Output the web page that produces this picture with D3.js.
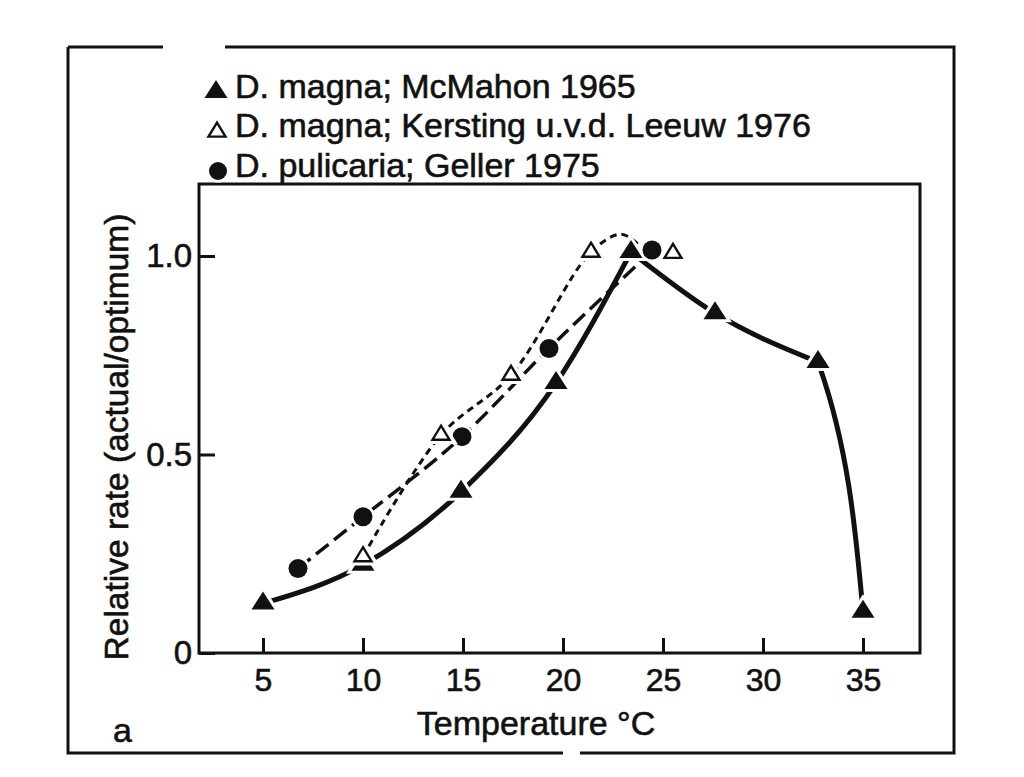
<!DOCTYPE html>
<html>
<head>
<meta charset="utf-8">
<script src="https://cdn.jsdelivr.net/npm/d3@7"></script>
<style>
  html, body { margin: 0; padding: 0; background: #fff; }
  svg { display: block; }
  text { font-family: "Liberation Sans", Arial, Helvetica, sans-serif; fill: #111; stroke: #111; stroke-width: 0.6px; }
</style>
</head>
<body>
<svg id="chart" width="1024" height="777"></svg>
<script>
// ---------------- data ----------------
const legendLabels = [
  "D. magna; McMahon 1965",
  "D. magna; Kersting u.v.d. Leeuw 1976",
  "D. pulicaria; Geller 1975"
];
// McMahon 1965 (filled triangles, solid line)
const mcmahonT = [5, 10, 14.9, 19.65, 23.4, 27.6, 32.75, 35];
const mcmahonV = [0.125, 0.222, 0.406, 0.68, 1.01, 0.856, 0.733, 0.104];
// Kersting u.v.d. Leeuw 1976 (open triangles, short-dashed line)
const kerstingT = [10, 13.9, 17.4, 21.4, 25.5];
const kerstingV = [0.243, 0.549, 0.70, 1.01, 1.007];
const kerstingArcT = [22.9, 23.75];      // line continues over the peak
const kerstingArcV = [1.055, 1.03];
// Geller 1975 (filled circles, dashed line)
const gellerT = [6.75, 10, 14.95, 19.3, 24.45];
const gellerV = [0.213, 0.343, 0.545, 0.767, 1.015];
const gellerEndT = [23.65];               // line ends at the peak
const gellerEndV = [0.975];
// axes
const xTicks = [5, 10, 15, 20, 25, 30, 35];
const yTicks = [0, 0.5, 1.0];
const yTickLabels = ["0", "0.5", "1.0"];
const xTitle = "Temperature °C";
const yTitle = "Relative rate (actual/optimum)";
const panelLabel = "a";

// ---------------- layout ----------------
const svg = d3.select("#chart");
const plot = { left: 199, right: 920, top: 184, bottom: 653 };
const x = d3.scaleLinear().domain([1.8, 37.85]).range([plot.left, plot.right]);
const y = d3.scaleLinear().domain([0, 1.0]).range([653, 256]);

// outer frame (with small gaps as in the print)
svg.append("path")
  .attr("d", "M68,47 L163,47 M225,47 L954,47 L954,753 L580,753 M563,753 L68,753 L68,47")
  .attr("fill", "none").attr("stroke", "#111").attr("stroke-width", 3);

// plot frame
svg.append("rect")
  .attr("x", plot.left).attr("y", plot.top)
  .attr("width", plot.right - plot.left).attr("height", plot.bottom - plot.top)
  .attr("fill", "none").attr("stroke", "#111").attr("stroke-width", 3);

// x axis
const xAxis = d3.axisBottom(x).tickValues(xTicks).tickSize(-15).tickPadding(15).tickFormat(d3.format("d"));
const gx = svg.append("g").attr("transform", `translate(0,${plot.bottom})`).call(xAxis);
gx.select(".domain").remove();
gx.selectAll(".tick line").attr("stroke", "#111").attr("stroke-width", 3);
gx.selectAll(".tick text").attr("font-size", 32).attr("font-family", "Liberation Sans, Arial, sans-serif").attr("fill", "#111");

// y axis
const yAxis = d3.axisLeft(y).tickValues(yTicks).tickSize(-16).tickPadding(7)
  .tickFormat((d, i) => yTickLabels[i]);
const gy = svg.append("g").attr("transform", `translate(${plot.left},0)`).call(yAxis);
gy.select(".domain").remove();
gy.selectAll(".tick line").attr("stroke", "#111").attr("stroke-width", 3);
gy.selectAll(".tick text").attr("font-size", 33).attr("font-family", "Liberation Sans, Arial, sans-serif").attr("fill", "#111");

// titles
svg.append("text").attr("x", 536).attr("y", 735).attr("text-anchor", "middle")
  .attr("font-size", 34).text(xTitle);
svg.append("text").attr("transform", "translate(128,437) rotate(-90)").attr("text-anchor", "middle")
  .attr("font-size", 33.5).text(yTitle);
svg.append("text").attr("x", 113).attr("y", 742).attr("font-size", 34).text(panelLabel);

// ---------------- lines ----------------
const pts = (T, V) => T.map((t, i) => [t, V[i]]);
const lineX = d3.line().x(d => x(d[0])).y(d => y(d[1])).curve(d3.curveMonotoneX);
const lineY = d3.line().x(d => x(d[0])).y(d => y(d[1])).curve(d3.curveMonotoneY);
const lines = svg.append("g").attr("fill", "none").attr("stroke", "#111").attr("stroke-linecap", "butt");

const mcPts = pts(mcmahonT, mcmahonV);
// rising branch
lines.append("path").attr("d", lineX(mcPts.slice(0, 5))).attr("stroke-width", 5);
// falling branch up to 32.75
lines.append("path").attr("d", lineX(mcPts.slice(4, 7))).attr("stroke-width", 5);
// final steep drop (shape from 27.6–35, shown only beyond 32.75)
svg.append("clipPath").attr("id", "dropClip").append("rect")
  .attr("x", x(mcmahonT[6])).attr("y", plot.top).attr("width", plot.right - x(mcmahonT[6])).attr("height", plot.bottom - plot.top);
lines.append("path").attr("d", lineY(mcPts.slice(5))).attr("stroke-width", 5).attr("clip-path", "url(#dropClip)");

const gePts = pts(gellerT.slice(0, 4), gellerV.slice(0, 4)).concat(pts(gellerEndT, gellerEndV));
lines.append("path").attr("d", lineX(gePts)).attr("stroke-width", 3.5).attr("stroke-dasharray", "16 7");

const kePts = pts(kerstingT.slice(0, 4), kerstingV.slice(0, 4)).concat(pts(kerstingArcT, kerstingArcV));
lines.append("path").attr("d", d3.line().x(d => x(d[0])).y(d => y(d[1])).curve(d3.curveCatmullRom.alpha(0.5))(kePts))
  .attr("stroke-width", 3).attr("stroke-dasharray", "7 5");

// ---------------- markers ----------------
function triPath(w, h) {
  const top = -2 * h / 3, base = h / 3;   // centroid at origin
  return `M0,${top} L${w / 2},${base} L${-w / 2},${base} Z`;
}
const marks = svg.append("g");
function filledTri(g, cx, cy) {
  g.append("path").attr("transform", `translate(${cx},${cy})`).attr("d", triPath(23, 18))
    .attr("fill", "#fff").attr("stroke", "#fff").attr("stroke-width", 6);
  g.append("path").attr("transform", `translate(${cx},${cy})`).attr("d", triPath(23, 18)).attr("fill", "#111");
}
function openTri(g, cx, cy) {
  g.append("path").attr("transform", `translate(${cx},${cy})`).attr("d", triPath(19, 15))
    .attr("fill", "#fff").attr("stroke", "#fff").attr("stroke-width", 8);
  g.append("path").attr("transform", `translate(${cx},${cy})`).attr("d", triPath(17, 14))
    .attr("fill", "#fff").attr("stroke", "#111").attr("stroke-width", 2.4);
}
function dot(g, cx, cy, r) {
  g.append("circle").attr("cx", cx).attr("cy", cy).attr("r", r + 2.5).attr("fill", "#fff");
  g.append("circle").attr("cx", cx).attr("cy", cy).attr("r", r).attr("fill", "#111");
}
mcmahonT.forEach((t, i) => filledTri(marks, x(t), y(mcmahonV[i])));
gellerT.forEach((t, i) => dot(marks, x(t), y(gellerV[i]), 9.5));
kerstingT.forEach((t, i) => openTri(marks, x(t), y(kerstingV[i])));

// ---------------- legend ----------------
const leg = svg.append("g");
const legY = [98, 137, 177];
filledTri(leg, 216, 92);
openTri(leg, 217, 132);
dot(leg, 218, 171, 9);
legendLabels.forEach((s, i) => {
  leg.append("text").attr("x", 235).attr("y", legY[i]).attr("font-size", 34).text(s);
});
</script>
</body>
</html>
